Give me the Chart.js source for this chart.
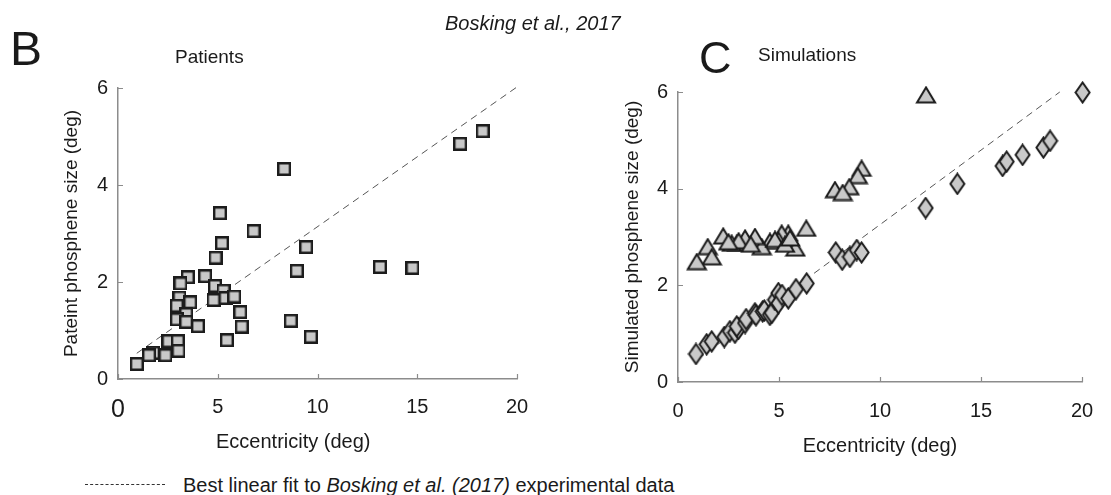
<!DOCTYPE html>
<html>
<head>
<meta charset="utf-8">
<script src="https://cdn.jsdelivr.net/npm/chart.js@4.4.0/dist/chart.umd.min.js"></script>
<style>
  body { margin: 0; background: #fff; font-family: "Liberation Sans", Arial, sans-serif; color: #1a1a1a; }
  #wrap { position: relative; width: 1111px; height: 495px; overflow: hidden; }
  .lbl { position: absolute; line-height: 1; white-space: nowrap; }
  canvas { position: absolute; top: 0; }
  #fitKey { position: absolute; left: 85px; top: 484px; width: 80px; border-top: 1px dashed #333; }
</style>
</head>
<body>
<div id="wrap">
  <canvas id="patientsChart" width="560" height="470" style="left:0"></canvas>
  <canvas id="simChart" width="551" height="470" style="left:560px"></canvas>

  <div class="lbl" style="left:445px;top:13px;font-size:20px;font-style:italic">Bosking et al., 2017</div>
  <div class="lbl" style="left:10px;top:25px;font-size:48px">B</div>
  <div class="lbl" style="left:175px;top:47px;font-size:19px">Patients</div>
  <div class="lbl" style="left:699px;top:35px;font-size:45px">C</div>
  <div class="lbl" style="left:758px;top:45px;font-size:19px">Simulations</div>
  <!-- panel B's x title sits left of the axis centre -->
  <div class="lbl" style="left:216px;top:431px;font-size:20px">Eccentricity (deg)</div>

  <div id="fitKey"></div>
  <div class="lbl" style="left:183px;top:475px;font-size:20px">Best linear fit to <i>Bosking et al. (2017)</i> experimental data</div>
</div>

<script>
// tick values shared by both panels
const xTickValues = [0, 5, 10, 15, 20];
const yTickValues = [0, 2, 4, 6];

// panel B: measured phosphene size per electrode
const patientEcc = [18.28, 17.15, 8.33, 5.11, 6.80, 5.21, 9.43, 4.89, 13.13, 14.76,
  8.96, 3.50, 4.37, 3.13, 4.86, 5.29, 3.08, 3.62, 4.79, 5.39,
  5.83, 2.95, 3.42, 2.95, 6.13, 3.42, 6.20, 4.01, 8.66, 9.67,
  5.46, 2.53, 3.00, 1.77, 1.56, 2.38, 3.03, 0.94];
const patientSize = [5.11, 4.85, 4.33, 3.42, 3.05, 2.80, 2.72, 2.50, 2.31, 2.29,
  2.23, 2.10, 2.12, 1.97, 1.92, 1.82, 1.68, 1.58, 1.63, 1.67,
  1.70, 1.51, 1.34, 1.23, 1.38, 1.18, 1.08, 1.09, 1.20, 0.87,
  0.80, 0.78, 0.78, 0.54, 0.49, 0.49, 0.58, 0.31];

// panel C: simulated sizes, two model variants
const simTriEcc = [12.28, 9.09, 8.90, 8.48, 7.77, 8.15, 6.35, 5.81, 5.46, 5.13,
  4.97, 4.55, 4.14, 3.81, 3.32, 2.91, 2.66, 2.24, 1.47, 1.67,
  0.93, 3.00, 3.60, 4.80, 5.30, 5.55, 2.50];
const simTriSize = [5.94, 4.42, 4.27, 4.04, 3.98, 3.92, 3.18, 2.77, 3.08, 3.08,
  2.94, 2.91, 2.80, 3.01, 2.98, 2.87, 2.87, 3.02, 2.80, 2.59,
  2.49, 2.92, 2.85, 2.95, 2.85, 2.98, 2.90];

const simDiaEcc = [0.89, 1.42, 1.67, 2.29, 2.57, 2.82, 2.99, 2.91, 3.32, 3.37,
  3.81, 3.86, 4.19, 4.27, 4.55, 4.64, 4.80, 4.97, 4.97, 5.15,
  5.46, 5.84, 6.37, 7.81, 8.13, 8.51, 8.85, 9.09, 12.26, 13.83,
  16.07, 16.27, 17.06, 18.09, 18.42, 20.03];
const simDiaSize = [0.58, 0.78, 0.84, 0.93, 1.05, 1.02, 1.10, 1.15, 1.22, 1.30,
  1.42, 1.38, 1.46, 1.48, 1.39, 1.43, 1.70, 1.84, 1.63, 1.80,
  1.73, 1.92, 2.04, 2.68, 2.53, 2.59, 2.73, 2.68, 3.60, 4.10,
  4.47, 4.56, 4.70, 4.85, 4.99, 5.99];

// end points of the linear fit as drawn in each panel
const fitEccB = [0.94, 20.1];
const fitSizeB = [0.53, 6.05];
const fitEccC = [1.0, 18.9];
const fitSizeC = [0.48, 6.0];

const toXY = (xs, ys) => xs.map((x, i) => ({ x: x, y: ys[i] }));

function marker(w, h, pts, lw) {
  const c = document.createElement('canvas');
  c.width = w; c.height = h;
  const g = c.getContext('2d');
  g.beginPath();
  pts.forEach(([x, y], i) => i ? g.lineTo(x, y) : g.moveTo(x, y));
  g.closePath();
  g.fillStyle = '#c9c9c9';
  g.fill();
  g.lineWidth = lw;
  g.strokeStyle = '#1c1c1c';
  g.stroke();
  return c;
}
const squareMark = marker(14, 14, [[1.2, 1.2], [12.8, 1.2], [12.8, 12.8], [1.2, 12.8]], 2.4);
const triMark = marker(22, 18, [[2, 16.5], [11, 1.5], [20, 16.5]], 2);
const diaMark = marker(17, 23, [[8.5, 1.5], [15.5, 11.5], [8.5, 21.5], [1.5, 11.5]], 2);

// short tick marks pointing into the plot
const inwardTicks = {
  id: 'inwardTicks',
  afterDraw(chart) {
    const { ctx, chartArea: a, scales: { x, y } } = chart;
    ctx.save();
    ctx.strokeStyle = '#8c8c8c';
    ctx.lineWidth = 1.2;
    ctx.beginPath();
    xTickValues.forEach(v => {
      const px = Math.round(x.getPixelForValue(v)) + 0.5;
      ctx.moveTo(px, a.bottom); ctx.lineTo(px, a.bottom - 5);
    });
    yTickValues.forEach(v => {
      const py = Math.round(y.getPixelForValue(v)) + 0.5;
      ctx.moveTo(a.left, py); ctx.lineTo(a.left + 5, py);
    });
    ctx.stroke();
    ctx.restore();
  }
};

function fitLine(xs, ys) {
  return {
    type: 'line',
    data: toXY(xs, ys),
    borderColor: '#555',
    borderWidth: 1,
    borderDash: [7, 5],
    pointRadius: 0,
    clip: false,
    order: 10
  };
}

function pointSet(xs, ys, mark) {
  return {
    data: toXY(xs, ys),
    pointStyle: mark,
    pointRadius: 7,
    clip: false,
    order: 1
  };
}

function makeOptions(cfg) {
  const tickFont = cfg.bigZero
    ? c => ({ size: c.tick && c.tick.value === 0 ? 25 : 20 })
    : { size: 20 };
  return {
    responsive: false,
    animation: false,
    layout: { padding: { left: 0, right: cfg.padRight, top: cfg.padTop, bottom: 0 } },
    plugins: { legend: { display: false }, tooltip: { enabled: false } },
    scales: {
      x: {
        type: 'linear', min: 0, max: 20,
        afterBuildTicks: s => { s.ticks = xTickValues.map(v => ({ value: v })); },
        afterFit: s => { s.height = cfg.xHeight; },
        grid: { display: false, drawTicks: false },
        border: { display: true, color: '#8c8c8c', width: 1.5 },
        ticks: { color: '#1a1a1a', font: tickFont, padding: cfg.xPad, maxRotation: 0 },
        title: { display: cfg.xTitle, text: 'Eccentricity (deg)', color: '#1a1a1a',
                 font: { size: 20 }, padding: { top: 0, bottom: cfg.xTitlePad } }
      },
      y: {
        type: 'linear', min: 0, max: 6,
        afterBuildTicks: s => { s.ticks = yTickValues.map(v => ({ value: v })); },
        afterFit: s => { s.width = 118; },
        grid: { display: false, drawTicks: false },
        border: { display: true, color: '#8c8c8c', width: 1.5 },
        ticks: { color: '#1a1a1a', font: { size: 20 }, padding: 10 },
        title: { display: true, text: cfg.yTitle, color: '#1a1a1a',
                 font: { size: 19 }, padding: { top: cfg.yTitlePad, bottom: 0 } }
      }
    }
  };
}

Chart.defaults.font.family = '"Liberation Sans", Arial, sans-serif';

new Chart(document.getElementById('patientsChart'), {
  type: 'scatter',
  data: {
    datasets: [
      fitLine(fitEccB, fitSizeB),
      pointSet(patientEcc, patientSize, squareMark)
    ]
  },
  options: makeOptions({
    padRight: 43, padTop: 88, xHeight: 91, xPad: 16, xTitle: false, xTitlePad: 17,
    yTitle: 'Pateint phosphene size (deg)', yTitlePad: 60, bigZero: true
  }),
  plugins: [inwardTicks]
});

new Chart(document.getElementById('simChart'), {
  type: 'scatter',
  data: {
    datasets: [
      fitLine(fitEccC, fitSizeC),
      pointSet(simTriEcc, simTriSize, triMark),
      pointSet(simDiaEcc, simDiaSize, diaMark)
    ]
  },
  options: makeOptions({
    padRight: 29, padTop: 92, xHeight: 88, xPad: 17, xTitle: true, xTitlePad: 12,
    yTitle: 'Simulated phosphene size (deg)', yTitlePad: 61, bigZero: false
  }),
  plugins: [inwardTicks]
});
</script>
</body>
</html>
